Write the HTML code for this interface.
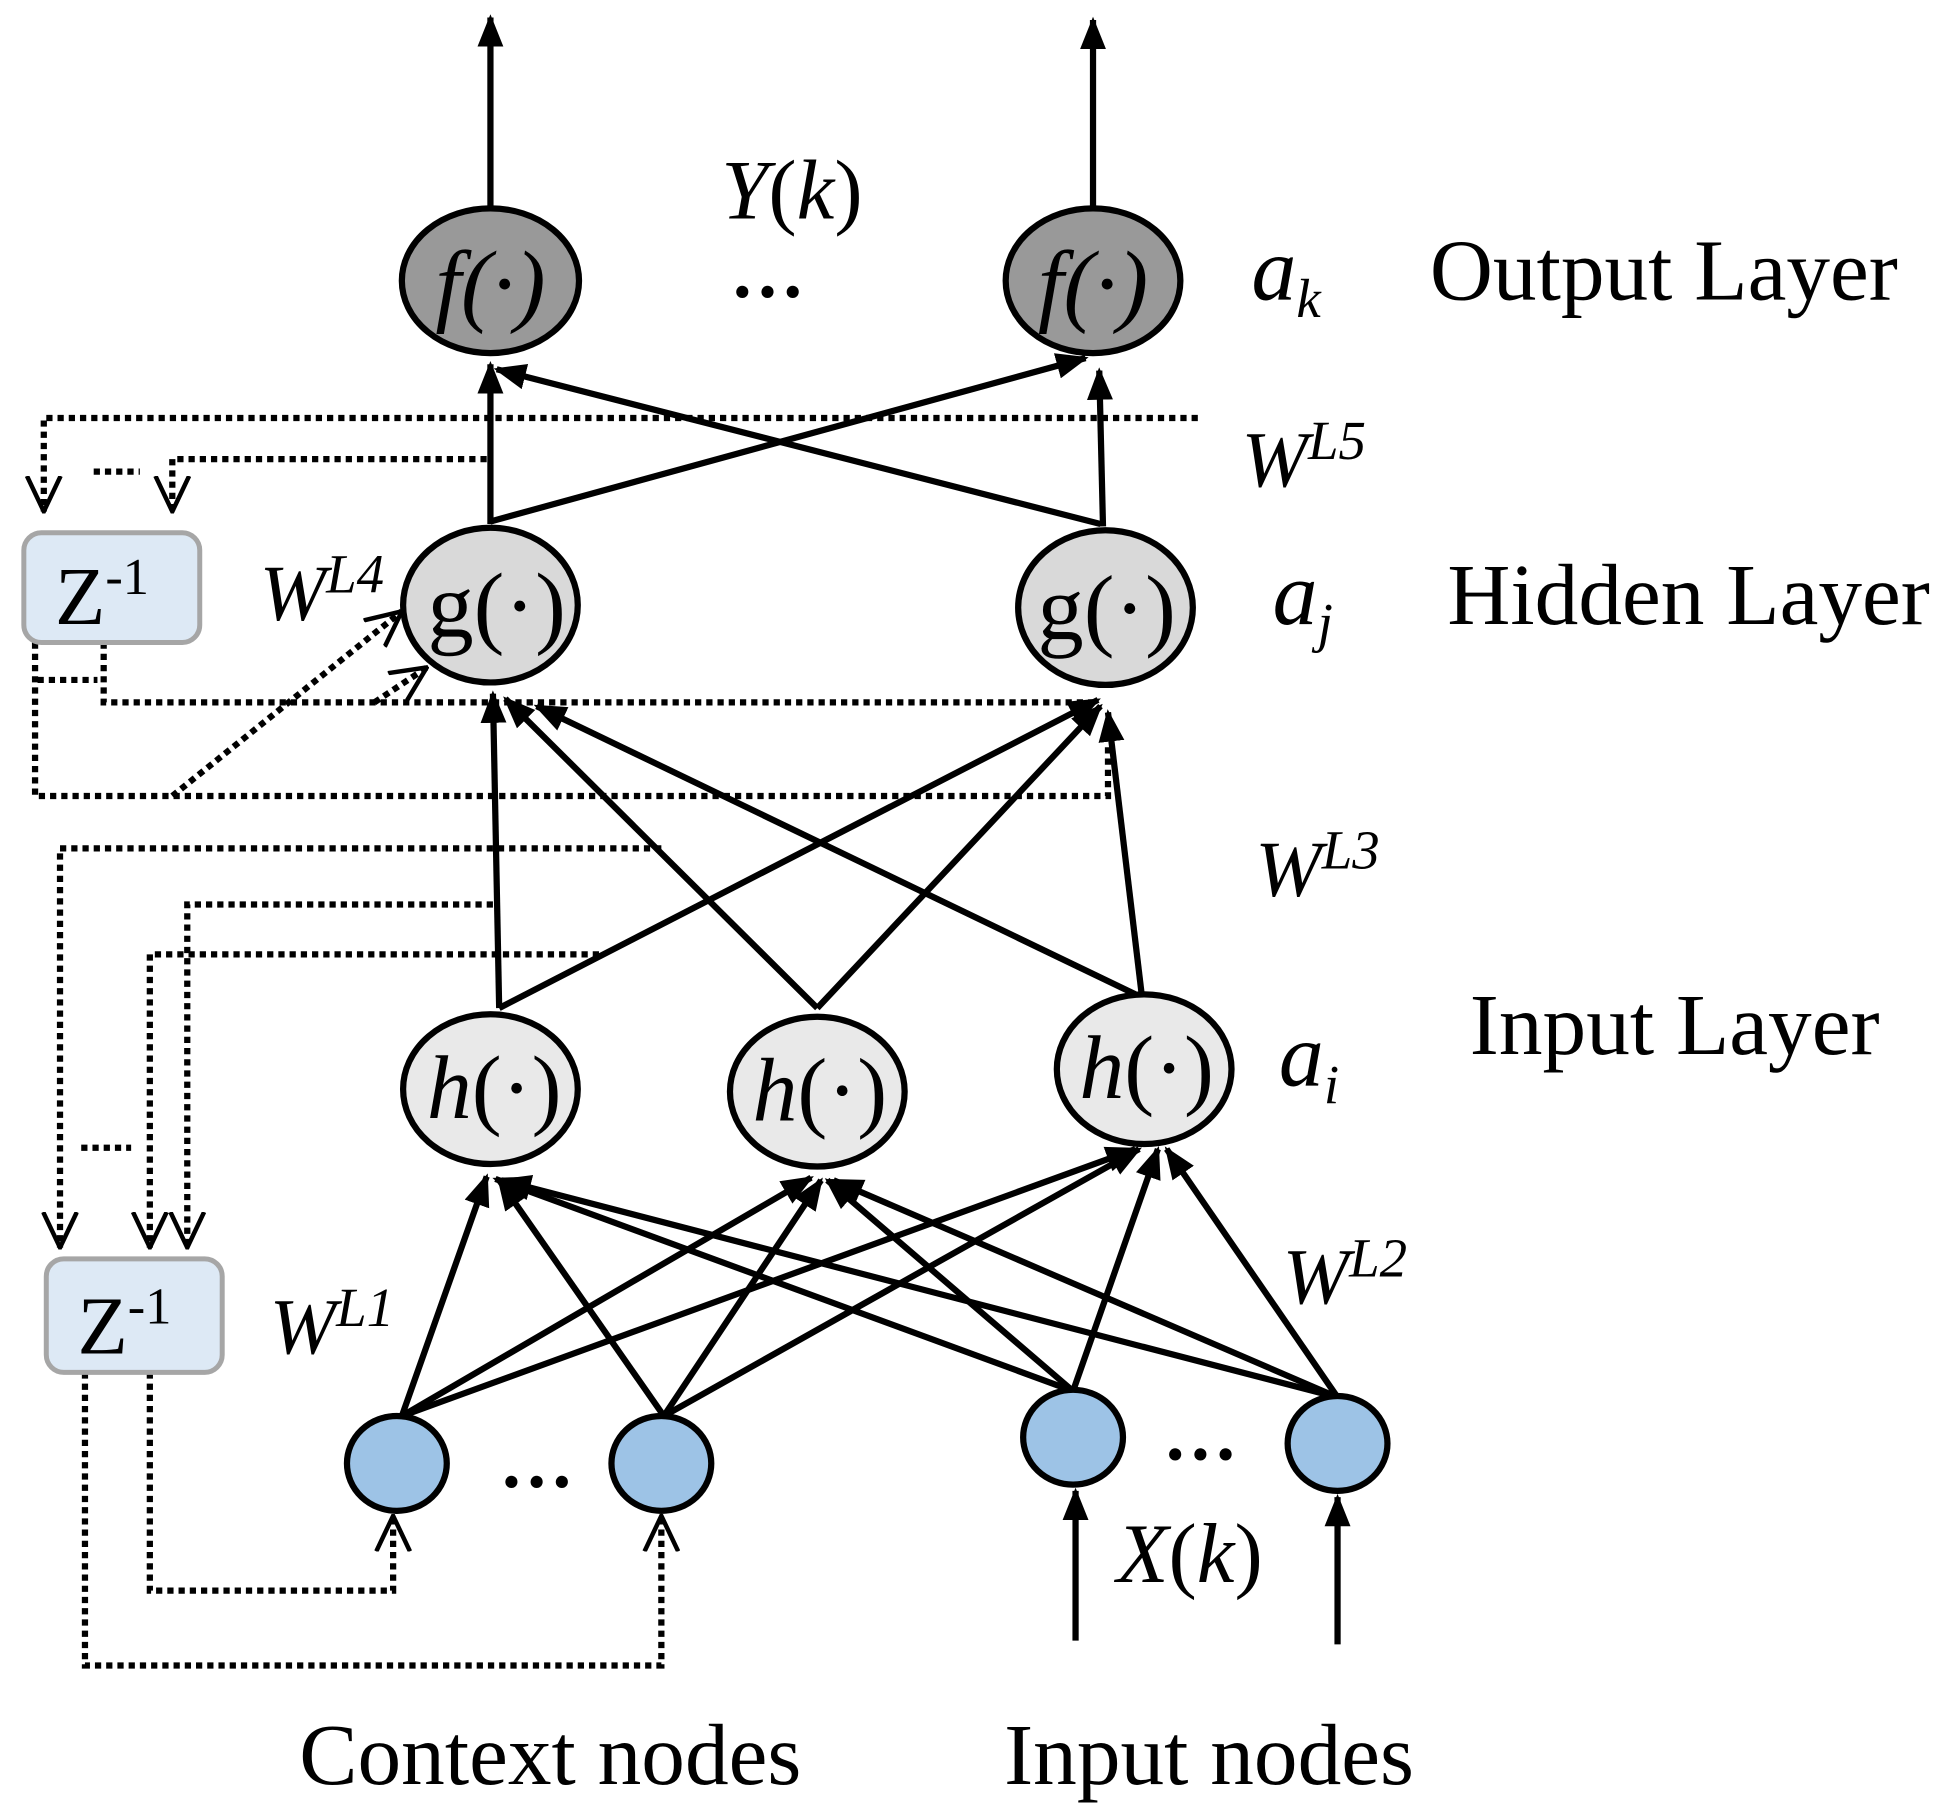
<!DOCTYPE html>
<html><head><style>html,body{margin:0;padding:0;background:#fff}svg{display:block}</style></head>
<body>
<svg width="1949" height="1814" viewBox="0 0 1562 1454" xmlns="http://www.w3.org/2000/svg" font-family="Liberation Serif, serif">
<defs>
<marker id="f" viewBox="0 0 10 10" refX="9" refY="5" markerWidth="26" markerHeight="26" markerUnits="userSpaceOnUse" orient="auto"><path d="M0,1 L10,5 L0,9 Z" fill="#000"/></marker>
<marker id="o" viewBox="0 0 10 10" refX="9.5" refY="5" markerWidth="30" markerHeight="30" markerUnits="userSpaceOnUse" orient="auto"><path d="M0,0.5 L9.5,5 L0,9.5" fill="none" stroke="#000" stroke-width="1.2"/></marker>
</defs>
<g stroke="#000" stroke-width="5" fill="none" marker-end="url(#f)">
<line x1="393" y1="165" x2="393" y2="14"/>
<line x1="876" y1="165" x2="876" y2="16"/>
<line x1="393" y1="420" x2="393" y2="292"/>
<line x1="884" y1="422" x2="881" y2="297"/>
<line x1="393" y1="418" x2="870" y2="287"/>
<line x1="882" y1="420" x2="398" y2="296"/>
<line x1="400" y1="808" x2="395" y2="556"/>
<line x1="400" y1="808" x2="880" y2="561"/>
<line x1="655" y1="808" x2="405" y2="560"/>
<line x1="655" y1="808" x2="882" y2="566"/>
<line x1="910" y1="797" x2="430" y2="566"/>
<line x1="915" y1="797" x2="888" y2="571"/>
<line x1="322" y1="1135" x2="390" y2="943"/>
<line x1="322" y1="1135" x2="650" y2="944"/>
<line x1="322" y1="1135" x2="910" y2="921"/>
<line x1="532" y1="1135" x2="400" y2="946"/>
<line x1="532" y1="1135" x2="658" y2="946"/>
<line x1="532" y1="1135" x2="913" y2="921"/>
<line x1="860" y1="1115" x2="397" y2="945"/>
<line x1="860" y1="1115" x2="663" y2="946"/>
<line x1="860" y1="1115" x2="928" y2="921"/>
<line x1="1072" y1="1120" x2="402" y2="946"/>
<line x1="1072" y1="1120" x2="668" y2="946"/>
<line x1="1072" y1="1120" x2="935" y2="921"/>
<line x1="862" y1="1315" x2="862" y2="1195"/>
<line x1="1072" y1="1318" x2="1072" y2="1200"/>
</g>
<g stroke="#000" stroke-width="5" fill="none" stroke-dasharray="5,4">
<polyline points="960,335 35,335 35,410" marker-end="url(#o)"/>
<polyline points="390,368 138,368 138,410" marker-end="url(#o)"/>
<line x1="75" y1="378" x2="112" y2="378"/>
<polyline points="83,515 83,563 880,563"/>
<polyline points="28,515 28,638 888,638 888,595"/>
<line x1="30" y1="545" x2="78" y2="545"/>
<line x1="138" y1="638" x2="322" y2="490" marker-end="url(#o)"/>
<line x1="300" y1="563" x2="342" y2="535" marker-end="url(#o)"/>
<polyline points="530,680 48,680 48,1000" marker-end="url(#o)"/>
<polyline points="395,725 150,725 150,1000" marker-end="url(#o)"/>
<polyline points="480,765 120,765 120,1000" marker-end="url(#o)"/>
<line x1="65" y1="920" x2="105" y2="920"/>
<polyline points="120,1100 120,1275 315,1275 315,1215" marker-end="url(#o)"/>
<polyline points="68,1100 68,1335 530,1335 530,1215" marker-end="url(#o)"/>
</g>
<g stroke="#000" stroke-width="5">
<ellipse cx="393" cy="225" rx="71" ry="58" fill="#999"/>
<ellipse cx="876" cy="225" rx="70" ry="58" fill="#999"/>
<ellipse cx="393" cy="485" rx="70" ry="62" fill="#d9d9d9"/>
<ellipse cx="886" cy="487" rx="70" ry="62" fill="#d9d9d9"/>
<ellipse cx="393" cy="873" rx="70" ry="60" fill="#e9e9e9"/>
<ellipse cx="655" cy="875" rx="70" ry="60" fill="#e9e9e9"/>
<ellipse cx="917" cy="857" rx="70" ry="60" fill="#e9e9e9"/>
<ellipse cx="318" cy="1173" rx="40" ry="38" fill="#9dc3e6"/>
<ellipse cx="530" cy="1173" rx="40" ry="38" fill="#9dc3e6"/>
<ellipse cx="860" cy="1152" rx="40" ry="38" fill="#9dc3e6"/>
<ellipse cx="1072" cy="1157" rx="40" ry="38" fill="#9dc3e6"/>
</g>
<rect x="19" y="427" width="141" height="88" rx="14" fill="#dde9f5" stroke="#a6a6a6" stroke-width="4"/>
<rect x="37" y="1009" width="141" height="91" rx="14" fill="#dde9f5" stroke="#a6a6a6" stroke-width="4"/>
<g font-size="70" fill="#000">
<text x="44" y="500" font-size="66">Z<tspan font-size="42" dy="-24">-1</tspan></text>
<text x="62" y="1085" font-size="66">Z<tspan font-size="42" dy="-24">-1</tspan></text>
<g font-style="italic" text-anchor="middle" font-size="74">
<text x="393" y="252">f(·)</text>
<text x="876" y="252">f(·)</text>
</g>
<text x="398" y="510" text-anchor="middle" font-size="74">g(·)</text>
<text x="887" y="512" text-anchor="middle" font-size="74">g(·)</text>
<text x="396" y="896" text-anchor="middle" font-size="72"><tspan font-style="italic">h</tspan>(·)</text>
<text x="657" y="898" text-anchor="middle" font-size="72"><tspan font-style="italic">h</tspan>(·)</text>
<text x="919" y="880" text-anchor="middle" font-size="72"><tspan font-style="italic">h</tspan>(·)</text>
<text x="578" y="175" font-size="68"><tspan font-style="italic">Y</tspan>(<tspan font-style="italic">k</tspan>)</text>
<text x="895" y="1268" font-size="68"><tspan font-style="italic">X</tspan>(<tspan font-style="italic">k</tspan>)</text>
<g font-weight="bold" font-size="60">
<text x="585" y="238">…</text>
<text x="400" y="1192">…</text>
<text x="932" y="1170">…</text>
</g>
<g font-style="italic">
<text x="1003" y="240" font-size="72">a<tspan font-size="44" dy="14">k</tspan></text>
<text x="1020" y="500" font-size="72">a<tspan font-size="44" dy="14">j</tspan></text>
<text x="1025" y="870" font-size="72">a<tspan font-size="44" dy="14">i</tspan></text>
<text x="995" y="390" font-size="64">W<tspan font-size="44" dy="-22">L5</tspan></text>
<text x="1006" y="718" font-size="64">W<tspan font-size="44" dy="-22">L3</tspan></text>
<text x="208" y="497" font-size="64">W<tspan font-size="44" dy="-22">L4</tspan></text>
<text x="216" y="1085" font-size="64">W<tspan font-size="44" dy="-22">L1</tspan></text>
<text x="1028" y="1045" font-size="64">W<tspan font-size="44" dy="-22">L2</tspan></text>
</g>
<text x="1146" y="240">Output Layer</text>
<text x="1160" y="500">Hidden Layer</text>
<text x="1178" y="845">Input Layer</text>
<text x="441" y="1430" text-anchor="middle">Context nodes</text>
<text x="969" y="1430" text-anchor="middle">Input nodes</text>
</g>
</svg>
</body></html>
